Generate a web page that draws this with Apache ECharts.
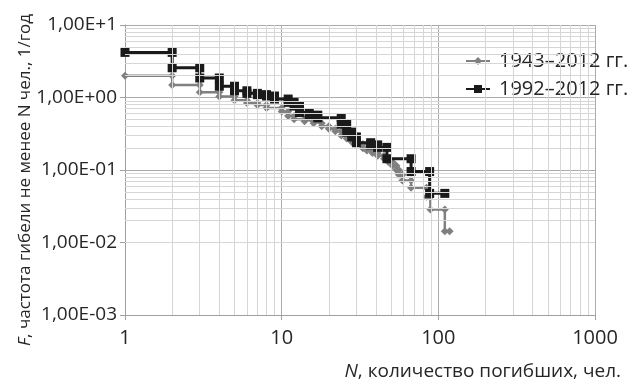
<!DOCTYPE html>
<html>
<head>
<meta charset="utf-8">
<script src="https://cdn.jsdelivr.net/npm/echarts@6/dist/echarts.min.js"></script>
<style>html,body{margin:0;padding:0;background:#fff;}#c{width:628px;height:383px;}</style>
</head>
<body>
<div id="c"></div>
<script>
// Series 1943–2012: step thresholds N and frequency F (1/год)
const nGray = [1,2,3,4,5,6,7,8,10,11,12,14,16,18,20,22,24,26,28,30,33,35,38,41,45,48,51,54,56,59,67,84,89,110];
const fGray = [2.0,1.486,1.186,1.029,0.914,0.843,0.786,0.714,0.643,0.557,0.5,0.471,0.443,0.4,0.371,0.343,0.3,0.271,0.243,0.229,0.2,0.186,0.171,0.157,0.143,0.129,0.114,0.1,0.086,0.0714,0.0571,0.0429,0.0286,0.0143];
const nGrayEnd = 118;
// Series 1992–2012
const nBlack = [1,2,3,4,5,6,7,8,9,11,12,13,15,17,24,26,28,30,37,41,47,67,88];
const fBlack = [4.19,2.57,1.857,1.43,1.238,1.14,1.095,1.048,0.952,0.857,0.762,0.619,0.571,0.524,0.429,0.333,0.286,0.238,0.222,0.205,0.143,0.0952,0.0476];
const nBlackEnd = 110;

const seriesNames = ['1943–2012 гг.', '1992–2012 гг.'];
const xTickLabels = {1:'1', 10:'10', 100:'100', 1000:'1000'};
const yTickLabels = ['1,00E-03','1,00E-02','1,00E-01','1,00E+00','1,00E+1'];
const minorX = [2,3,4,5,6,7,8,9,20,30,40,50,60,70,80,90,200,300,400,500,600,700,800,900];
const minorY = [0.002,0.003,0.004,0.005,0.006,0.007,0.008,0.009,0.02,0.03,0.04,0.05,0.06,0.07,0.08,0.09,0.2,0.3,0.4,0.5,0.6,0.7,0.8,0.9,2,3,4,5,6,7,8,9];

function steps(n, f, nEnd) {
  const out = [];
  for (let i = 0; i < n.length; i++) {
    out.push([n[i], f[i]]);
    out.push([i + 1 < n.length ? n[i + 1] : nEnd, f[i]]);
  }
  return out;
}

const FONT = 'Open Sans';
const TXT = '#262626';
const chart = echarts.init(document.getElementById('c'), null, {renderer: 'canvas'});
const minorLines = minorX.map(v => ({xAxis: v})).concat(minorY.map(v => ({yAxis: v})));

chart.setOption({
  animation: false,
  backgroundColor: '#fff',
  textStyle: {fontFamily: FONT},
  grid: {left: 125, right: 33, top: 25, bottom: 68, containLabel: false},
  legend: {
    data: seriesNames,
    orient: 'vertical',
    left: 460, top: 46,
    itemWidth: 24, itemHeight: 10, itemGap: 8,
    textStyle: {fontFamily: FONT, fontSize: 20, color: TXT, padding: [0, 0, 0, 4]}
  },
  xAxis: {
    type: 'log', logBase: 10, min: 1, max: 1000,
    axisLine: {show: true, lineStyle: {color: '#a0a0a0', width: 1}},
    axisTick: {show: true, length: 5, lineStyle: {color: '#a0a0a0'}},
    axisLabel: {fontFamily: FONT, fontSize: 20, color: TXT, margin: 13,
      formatter: v => xTickLabels[Math.round(v)] || ''},
    splitLine: {show: true, lineStyle: {color: '#ababab', width: 1}}
  },
  yAxis: {
    type: 'log', logBase: 10, min: 0.001, max: 10,
    axisLine: {show: true, lineStyle: {color: '#a0a0a0', width: 1}},
    axisTick: {show: true, length: 5, lineStyle: {color: '#a0a0a0'}},
    axisLabel: {fontFamily: FONT, fontSize: 19, color: TXT, margin: 8,
      formatter: v => yTickLabels[Math.round(Math.log10(v)) + 3]},
    splitLine: {show: true, lineStyle: {color: '#ababab', width: 1}}
  },
  series: [
    {
      name: 'grid-minor', type: 'line', data: [[1, 1]], symbol: 'none',
      lineStyle: {opacity: 0}, silent: true, z: 1,
      markLine: {
        silent: true, symbol: ['none', 'none'], animation: false,
        label: {show: false},
        lineStyle: {color: '#d6d6d6', width: 1, type: 'solid'},
        emphasis: {disabled: true},
        data: minorLines
      }
    },
    {
      name: seriesNames[0], type: 'line', z: 3,
      data: steps(nGray, fGray, nGrayEnd),
      symbol: 'diamond', symbolSize: 8,
      itemStyle: {color: '#808080'},
      lineStyle: {color: '#808080', width: 2.5}
    },
    {
      name: seriesNames[1], type: 'line', z: 4,
      data: steps(nBlack, fBlack, nBlackEnd),
      symbol: 'rect', symbolSize: 9,
      itemStyle: {color: '#1a1a1a'},
      lineStyle: {color: '#1a1a1a', width: 3}
    }
  ],
  graphic: [
    {
      type: 'text', x: 25, y: 180, rotation: Math.PI / 2,
      style: {
        text: '{i|F}, частота гибели не менее N чел., 1/год',
        font: '17px "Open Sans"', fill: TXT,
        align: 'center', verticalAlign: 'middle',
        rich: {i: {fontStyle: 'italic', fontSize: 17, fontFamily: FONT, fill: TXT}}
      }
    },
    {
      type: 'text', x: 621, y: 372,
      style: {
        text: '{i|N}, количество погибших, чел.',
        font: '19px "Open Sans"', fill: TXT,
        align: 'right', verticalAlign: 'middle',
        rich: {i: {fontStyle: 'italic', fontSize: 19, fontFamily: FONT, fill: TXT}}
      }
    }
  ]
});
</script>
</body>
</html>
